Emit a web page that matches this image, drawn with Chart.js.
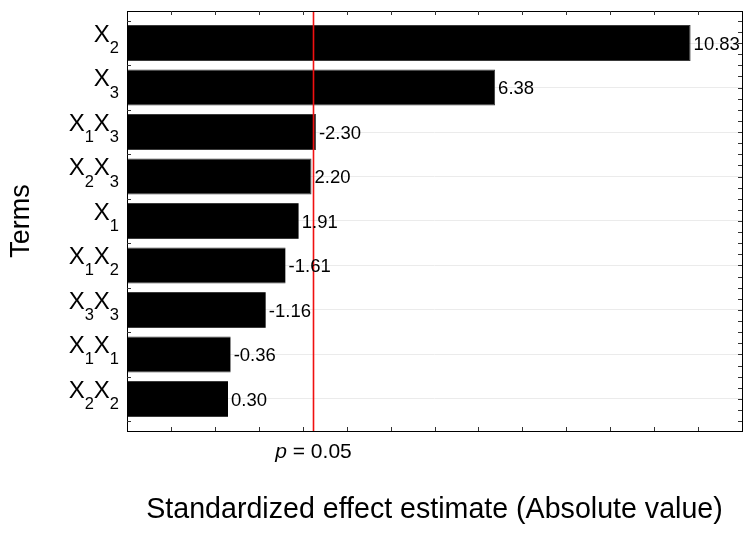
<!DOCTYPE html>
<html>
<head>
<meta charset="utf-8">
<script src="https://cdn.jsdelivr.net/npm/chart.js@4.4.0/dist/chart.umd.min.js"></script>
<style>
  body { margin: 0; background: #fff; }
  canvas { display: block; }
</style>
</head>
<body>
<canvas id="paretoChart" width="753" height="534"></canvas>
<script>
// Terms, top to bottom (digits are drawn as subscripts)
const termLabels = ['X2', 'X3', 'X1X3', 'X2X3', 'X1', 'X1X2', 'X3X3', 'X1X1', 'X2X2'];
// Standardized effects (signed, as printed next to the bars)
const effects = [10.83, 6.38, -2.30, 2.20, 1.91, -1.61, -1.16, -0.36, 0.30];
// Tick marks along the effect axis
const xTickValues = [-1, 0, 1, 2, 3, 4, 5, 6, 7, 8, 9, 10, 11];
const xMin = -2;
const xMax = 12;
const pCritical = 2.228;
const pLabel = '0.05';
const xTitle = 'Standardized effect estimate (Absolute value)';
const yTitle = 'Terms';

const FONT = '"Liberation Sans", Arial, Helvetica, sans-serif';

// split 'X1X3' into [['X','1'], ['X','3']]
function parseTerm(t) {
  const parts = [];
  const re = /([A-Za-z]+)(\d*)/g;
  let m;
  while ((m = re.exec(t)) !== null) {
    if (!m[0]) break;
    parts.push([m[1], m[2]]);
  }
  return parts;
}

const decorPlugin = {
  id: 'decor',
  afterDraw(chart) {
    const ctx = chart.ctx;
    const area = chart.chartArea;
    const xs = chart.scales.x;
    const ys = chart.scales.y;
    ctx.save();

    // critical value line
    const px = Math.round(xs.getPixelForValue(pCritical)) + 0.5;
    ctx.strokeStyle = '#f01010';
    ctx.lineWidth = 1.6;
    ctx.beginPath();
    ctx.moveTo(px, area.top);
    ctx.lineTo(px, area.bottom);
    ctx.stroke();

    // frame
    ctx.strokeStyle = '#000';
    ctx.lineWidth = 1;
    ctx.strokeRect(Math.round(area.left) + 0.5, Math.round(area.top) + 0.5,
      Math.round(area.right - area.left), Math.round(area.bottom - area.top));

    // ticks on top and bottom, pointing in
    ctx.strokeStyle = '#333';
    ctx.beginPath();
    xTickValues.forEach(v => {
      const x = Math.round(xs.getPixelForValue(v)) + 0.5;
      ctx.moveTo(x, area.bottom);
      ctx.lineTo(x, area.bottom - 4);
      ctx.moveTo(x, area.top);
      ctx.lineTo(x, area.top + 4);
    });
    // left ticks at category boundaries, right ticks every quarter
    for (let i = 0; i <= termLabels.length; i++) {
      const y = Math.round(ys.getPixelForValue(i - 0.5)) + 0.5;
      ctx.moveTo(area.left, y);
      ctx.lineTo(area.left + 4, y);
    }
    for (let q = -2; q <= termLabels.length * 4 + 2; q++) {
      const y = Math.round(ys.getPixelForValue(q / 4 - 0.5)) + 0.5;
      if (y <= area.top + 1 || y >= area.bottom - 1) continue;
      ctx.moveTo(area.right, y);
      ctx.lineTo(area.right - 4, y);
    }
    ctx.stroke();

    // value labels next to the bars
    ctx.fillStyle = '#000';
    ctx.font = '18.5px ' + FONT;
    ctx.textAlign = 'left';
    ctx.textBaseline = 'alphabetic';
    effects.forEach((v, i) => {
      const bx = xs.getPixelForValue(Math.abs(v));
      const by = ys.getPixelForValue(i);
      ctx.fillText(v.toFixed(2), bx + 3, by + 6.6);
    });

    // term labels with subscripts, right aligned
    termLabels.forEach((t, i) => {
      const parts = parseTerm(t);
      const y = ys.getPixelForValue(i);
      let w = 0;
      parts.forEach(([a, b]) => {
        ctx.font = '24px ' + FONT;
        w += ctx.measureText(a).width;
        ctx.font = '16.5px ' + FONT;
        w += ctx.measureText(b).width;
      });
      let x = area.left - 8 - w;
      parts.forEach(([a, b]) => {
        ctx.font = '24px ' + FONT;
        ctx.fillText(a, x, y - 1.3);
        x += ctx.measureText(a).width;
        ctx.font = '16.5px ' + FONT;
        ctx.fillText(b, x, y + 10);
        x += ctx.measureText(b).width;
      });
    });

    // p = 0.05 under the line
    ctx.font = 'italic 21px ' + FONT;
    const pW = ctx.measureText('p').width;
    ctx.font = '21px ' + FONT;
    const restW = ctx.measureText(' = ' + pLabel).width;
    const lx = px - (pW + restW) / 2;
    ctx.font = 'italic 21px ' + FONT;
    ctx.fillText('p', lx, 458);
    ctx.font = '21px ' + FONT;
    ctx.fillText(' = ' + pLabel, lx + pW, 458);

    // axis titles
    ctx.font = '28.6px ' + FONT;
    ctx.textAlign = 'center';
    ctx.fillText(xTitle, (area.left + area.right) / 2, 518);
    ctx.font = '27px ' + FONT;
    ctx.translate(28.5, (area.top + area.bottom) / 2);
    ctx.rotate(-Math.PI / 2);
    ctx.fillText(yTitle, 0, 0);

    ctx.restore();
  }
};

const ctx = document.getElementById('paretoChart').getContext('2d');
new Chart(ctx, {
  type: 'bar',
  data: {
    datasets: [{
      data: termLabels.map((t, i) => ({ x: [xMin, Math.abs(effects[i])], y: i })),
      backgroundColor: '#000',
      borderColor: '#3a3a3a',
      borderWidth: 1,
      borderSkipped: 'start',
      barPercentage: 0.81,
      categoryPercentage: 1,
    }],
  },
  options: {
    indexAxis: 'y',
    responsive: false,
    animation: false,
    layout: {
      padding: { left: 127, right: 11, top: 11, bottom: 103 }
    },
    plugins: {
      legend: { display: false },
      tooltip: { enabled: false },
    },
    scales: {
      x: {
        type: 'linear',
        min: xMin,
        max: xMax,
        display: false,
      },
      y: {
        type: 'linear',
        reverse: true,
        offset: false,
        min: -0.72,
        max: termLabels.length - 1 + 0.72,
        ticks: { display: false, stepSize: 1, includeBounds: false },
        grid: { color: '#ebebeb', drawTicks: false, offset: false },
        border: { display: false },
      },
    },
  },
  plugins: [decorPlugin],
});
</script>
</body>
</html>
